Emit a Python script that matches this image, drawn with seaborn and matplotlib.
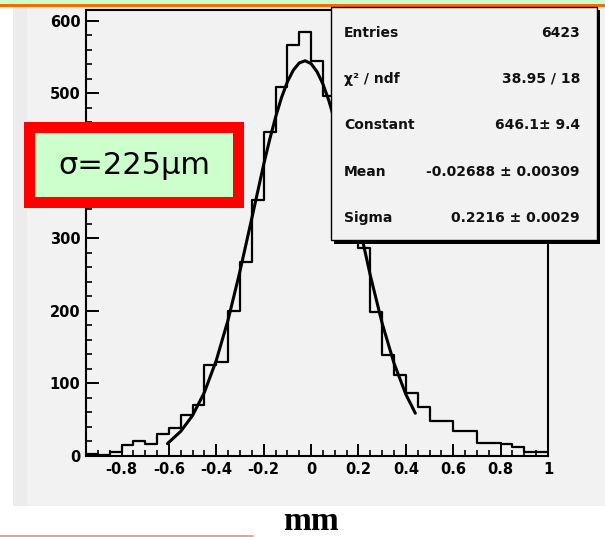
import numpy as np
import pandas as pd
import matplotlib
matplotlib.use("Agg")
import matplotlib.pyplot as plt
from matplotlib.patches import Rectangle
from matplotlib.lines import Line2D
import seaborn as sns

# ---------------- data ----------------
hist_range = (-0.95, 1.0)
counts = [3, 2, 6, 15, 21, 16, 31, 38, 57, 70,
          126, 129, 200, 267, 353, 447, 509, 567, 585, 544,
          496, 440, 370, 287, 199, 139, 112, 87, 67, 48,
          48, 34, 34, 18, 18, 16, 13, 6, 6]

fit_x = [-0.606, -0.60, -0.55, -0.50, -0.45, -0.40, -0.35, -0.30, -0.25, -0.20,
         -0.175, -0.15, -0.125, -0.10, -0.075, -0.05, -0.025, 0.00, 0.025, 0.05,
         0.075, 0.10, 0.125, 0.15, 0.175, 0.20, 0.25, 0.30, 0.35, 0.40, 0.44]
fit_y = [17, 19, 34, 56, 88, 132, 188, 255, 328, 402,
         436, 467, 494, 516, 532, 542, 545, 541, 530, 513,
         490, 462, 431, 396, 360, 323, 249, 183, 128, 85, 59]

x_ticks = [-0.8, -0.6, -0.4, -0.2, 0.0, 0.2, 0.4, 0.6, 0.8, 1.0]
x_tick_labels = ["-0.8", "-0.6", "-0.4", "-0.2", "0", "0.2", "0.4", "0.6", "0.8", "1"]
y_ticks = [0, 100, 200, 300, 400, 500, 600]
y_tick_labels = ["0", "100", "200", "300", "400", "500", "600"]

stat_labels = ["Entries", "\u03c7\u00b2 / ndf", "Constant", "Mean", "Sigma"]
stat_values = ["6423", "38.95 / 18", "646.1\u00b1 9.4",
               "-0.02688 \u00b1 0.00309", "0.2216 \u00b1 0.0029"]

sigma_text = "\u03c3=225\u03bcm"
xlabel_text = "mm"

# ---------------- figure ----------------
sns.set_style("ticks")
plt.rcParams["font.family"] = ["DejaVu Sans"]
plt.rcParams["text.color"] = "black"
plt.rcParams["xtick.labelcolor"] = "black"
plt.rcParams["ytick.labelcolor"] = "black"

W, H = 605, 537
fig = plt.figure(figsize=(W / 100, H / 100), dpi=100)
fig.patch.set_facecolor("white")


def px_rect(x0, y0, x1, y1, **kw):
    r = Rectangle((x0 / W, 1 - y1 / H), (x1 - x0) / W, (y1 - y0) / H,
                  transform=fig.transFigure, **kw)
    fig.add_artist(r)
    return r


# canvas background and top strips
px_rect(13, 6.7, 605, 506, fc="#f2f2f2", ec="none", zorder=-3)
px_rect(13, 6.7, 27, 506, fc="#ececec", ec="none", zorder=-2)
px_rect(0, 0, 605, 3.5, fc="#ccffcc", ec="none", zorder=-1)
px_rect(0, 3.5, 605, 6.7, fc="#ff6600", ec="none", zorder=-1)

ax = fig.add_axes([86 / W, 1 - 456 / H, (548 - 86) / W, (456 - 10) / H])
ax.set_facecolor("#f2f2f2")

edges = [float(e) for e in np.linspace(hist_range[0], hist_range[1], len(counts) + 1)]
centers = [0.5 * (a + b) for a, b in zip(edges[:-1], edges[1:])]
hist_df = pd.DataFrame({"x": centers, "w": counts})
fit_df = pd.DataFrame({"x": fit_x, "y": fit_y})

sns.histplot(data=hist_df, x="x", weights="w", bins=edges, element="step",
             fill=False, color="black", linewidth=1.6, ax=ax)
sns.lineplot(data=fit_df, x="x", y="y", color="black", linewidth=2.2,
             estimator=None, sort=False, ax=ax)

ax.set_xlim(*hist_range)
ax.set_ylim(0, 615)
ax.set_xlabel("")
ax.set_ylabel("")

ax.set_xticks(x_ticks)
ax.set_xticklabels(x_tick_labels)
ax.set_yticks(y_ticks)
ax.set_yticklabels(y_tick_labels)
ax.set_xticks(np.arange(-0.9, 1.0, 0.05), minor=True)
ax.set_yticks(np.arange(20, 615, 20), minor=True)

ax.tick_params(axis="both", which="major", direction="in", length=9,
               width=1.4, color="black", labelcolor="black", labelsize=10.5, pad=4)
ax.tick_params(axis="both", which="minor", direction="in", length=4.5,
               width=1.2, color="black")
ax.tick_params(axis="x", which="both", top=False)
ax.tick_params(axis="y", which="both", right=False)
for lab in ax.get_xticklabels() + ax.get_yticklabels():
    lab.set_fontweight("bold")
# the "400" label sits under the sigma box in the reference
for lab in ax.get_yticklabels():
    if lab.get_text() == "400":
        lab.set_visible(False)
for s in ax.spines.values():
    s.set_visible(True)
    s.set_linewidth(1.5)
    s.set_color("black")

# stats box
px_rect(334, 10, 600, 243.5, fc="black", ec="none", zorder=5)
px_rect(331, 7, 597, 240, fc="#f2f2f2", ec="black", lw=1.0, zorder=6)
row_y = [33, 79, 125, 172, 218]
for lab, val, yy in zip(stat_labels, stat_values, row_y):
    fig.text(344 / W, 1 - yy / H, lab, ha="left", va="center", fontsize=10,
             fontweight="bold", color="#111111", zorder=7)
    fig.text(580 / W, 1 - yy / H, val, ha="right", va="center", fontsize=10,
             fontweight="bold", color="#111111", zorder=7)

# sigma label box
px_rect(24, 122, 244, 208, fc="#ff0000", ec="none", zorder=8)
px_rect(35, 133, 233, 197, fc="#ccffcc", ec="none", zorder=9)
fig.text(134 / W, 1 - 166 / H, sigma_text, ha="center", va="center",
         fontsize=22, color="black", zorder=10)

# x label under the canvas
fig.text(311 / W, 1 - 521 / H, xlabel_text, ha="center", va="center",
         fontsize=24, fontweight="bold", color="black",
         family=["Liberation Serif", "DejaVu Serif"])

fig.add_artist(Line2D([0, 253 / W], [1 - 535.5 / H] * 2, color="#ff8080",
                      lw=1.2, transform=fig.transFigure))

fig.savefig("out.png", dpi=100)
